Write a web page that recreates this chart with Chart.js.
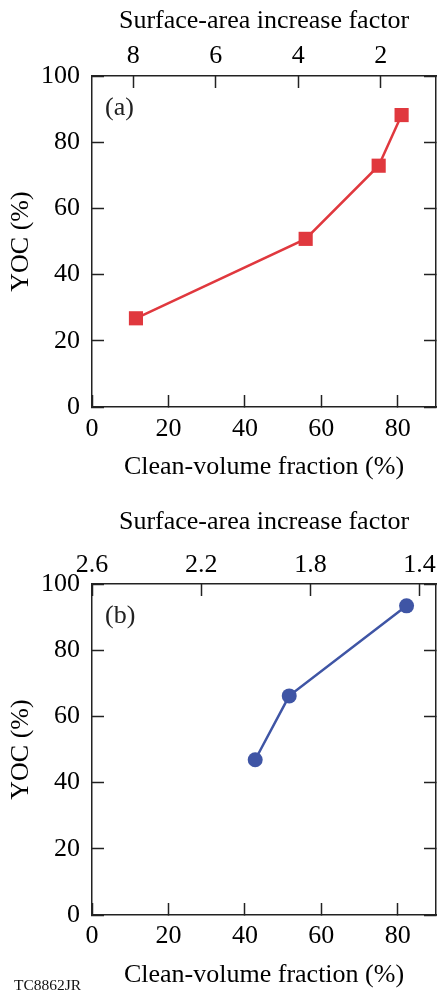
<!DOCTYPE html>
<html>
<head>
<meta charset="utf-8">
<script src="https://cdn.jsdelivr.net/npm/chart.js@4/dist/chart.umd.min.js"></script>
<style>
  body { margin: 0; background: #fff; }
  #wrap { position: relative; width: 437px; height: 999px; }
  #chartA { position: absolute; left: 0; top: 0; }
  #chartB { position: absolute; left: 0; top: 500px; }
  #code { position: absolute; left: 14px; top: 976px; font: 15.5px "Liberation Serif", serif; color: #111; }
</style>
</head>
<body>
<div id="wrap">
  <canvas id="chartA" width="437" height="500"></canvas>
  <canvas id="chartB" width="437" height="499"></canvas>
  <div id="code">TC8862JR</div>
</div>
<script>
// panel (a)
const fractionA = [11.5, 55.9, 75.0, 81.0]
const yocA = [26.8, 50.8, 72.9, 88.2]
const topTicksA = [8, 6, 4, 2]
const topRangeA = [0.66, 9]

// panel (b)
const fractionB = [42.7, 51.6, 82.3]
const yocB = [46.9, 66.2, 93.4]
const topTicksB = [2.6, 2.2, 1.8, 1.4]
const topRangeB = [1.34, 2.6]

const xTicks = [0, 20, 40, 60, 80]
const yTicks = [0, 20, 40, 60, 80, 100]

const ink = '#222'
const font = { family: '"Liberation Serif", "Times New Roman", serif', size: 26 }

const panelLabel = {
  id: 'panelLabel',
  afterDraw(chart, args, opts) {
    const ctx = chart.ctx
    const a = chart.chartArea
    ctx.save()
    ctx.fillStyle = ink
    ctx.font = '26px ' + font.family
    ctx.textBaseline = 'middle'
    ctx.fillText(opts.text, a.left + 13, a.top + 32)
    ctx.restore()
  }
}

function setTicks(list) {
  return axis => { axis.ticks = list.map(v => ({ value: v })) }
}

// fixed axis sizes so the plot box sits where it should; no label overhang padding
function fixSize(key, val) {
  return s => {
    s[key] = val
    s.paddingLeft = 0; s.paddingRight = 0; s.paddingTop = 0; s.paddingBottom = 0
  }
}

function makeChart(id, xs, ys, color, style, radius, topTicks, topRange, label, sizes) {
  new Chart(document.getElementById(id), {
    type: 'scatter',
    plugins: [panelLabel],
    data: {
      datasets: [{
        data: xs.map((x, i) => ({ x: x, y: ys[i] })),
        showLine: true,
        borderColor: color,
        backgroundColor: color,
        borderWidth: 2.5,
        pointStyle: style,
        pointRadius: radius,
        pointHoverRadius: radius,
        pointBorderWidth: 0
      }]
    },
    options: {
      responsive: false,
      animation: false,
      layout: { padding: 0, autoPadding: false },
      plugins: {
        legend: { display: false },
        tooltip: { enabled: false },
        panelLabel: { text: label }
      },
      scales: {
        x: {
          type: 'linear', position: 'bottom', min: 0, max: 90,
          afterBuildTicks: setTicks(xTicks),
          afterFit: fixSize('height', sizes.bottom),
          grid: { drawOnChartArea: false, tickLength: -12, color: ink, tickWidth: 1.5 },
          border: { color: ink, width: 1.5 },
          ticks: { color: '#000', font: font, padding: 12 + sizes.bottomPad, maxRotation: 0 },
          title: { display: true, text: 'Clean-volume fraction (%)', color: '#000', font: font, padding: { top: 0, bottom: sizes.bottomTitle } }
        },
        x2: {
          type: 'linear', position: 'top', min: topRange[0], max: topRange[1], reverse: true,
          afterBuildTicks: setTicks(topTicks),
          afterFit: fixSize('height', sizes.top),
          grid: { drawOnChartArea: false, tickLength: -12, color: ink, tickWidth: 1.5 },
          border: { color: ink, width: 1.5 },
          ticks: { color: '#000', font: font, padding: 12 + sizes.topPad, maxRotation: 0, callback: v => String(v) },
          title: { display: true, text: 'Surface-area increase factor', color: '#000', font: font, padding: { top: sizes.topTitle, bottom: 0 } }
        },
        y: {
          type: 'linear', position: 'left', min: 0, max: 100,
          afterBuildTicks: setTicks(yTicks),
          afterFit: fixSize('width', 92),
          grid: { drawOnChartArea: false, tickLength: -12, color: ink, tickWidth: 1.5 },
          border: { color: ink, width: 1.5 },
          ticks: { color: '#000', font: font, padding: 24 },
          title: { display: true, text: 'YOC (%)', color: '#000', font: font, padding: { top: 6, bottom: 0 } }
        },
        y2: {
          type: 'linear', position: 'right', min: 0, max: 100,
          afterBuildTicks: setTicks(yTicks),
          afterFit: fixSize('width', 1),
          grid: { drawOnChartArea: false, tickLength: -12, color: ink, tickWidth: 1.5 },
          border: { color: ink, width: 1.5 },
          ticks: { display: false }
        }
      }
    }
  })
}

makeChart('chartA', fractionA, yocA, '#e0383e', 'rect', 10, topTicksA, topRangeA, '(a)',
  { top: 76, bottom: 93, topPad: 4, bottomPad: 7, topTitle: 6, bottomTitle: 17 })
makeChart('chartB', fractionB, yocB, '#3f55a5', 'circle', 7.5, topTicksB, topRangeB, '(b)',
  { top: 84, bottom: 84, topPad: 3, bottomPad: 6, topTitle: 7, bottomTitle: 8 })
</script>
</body>
</html>
